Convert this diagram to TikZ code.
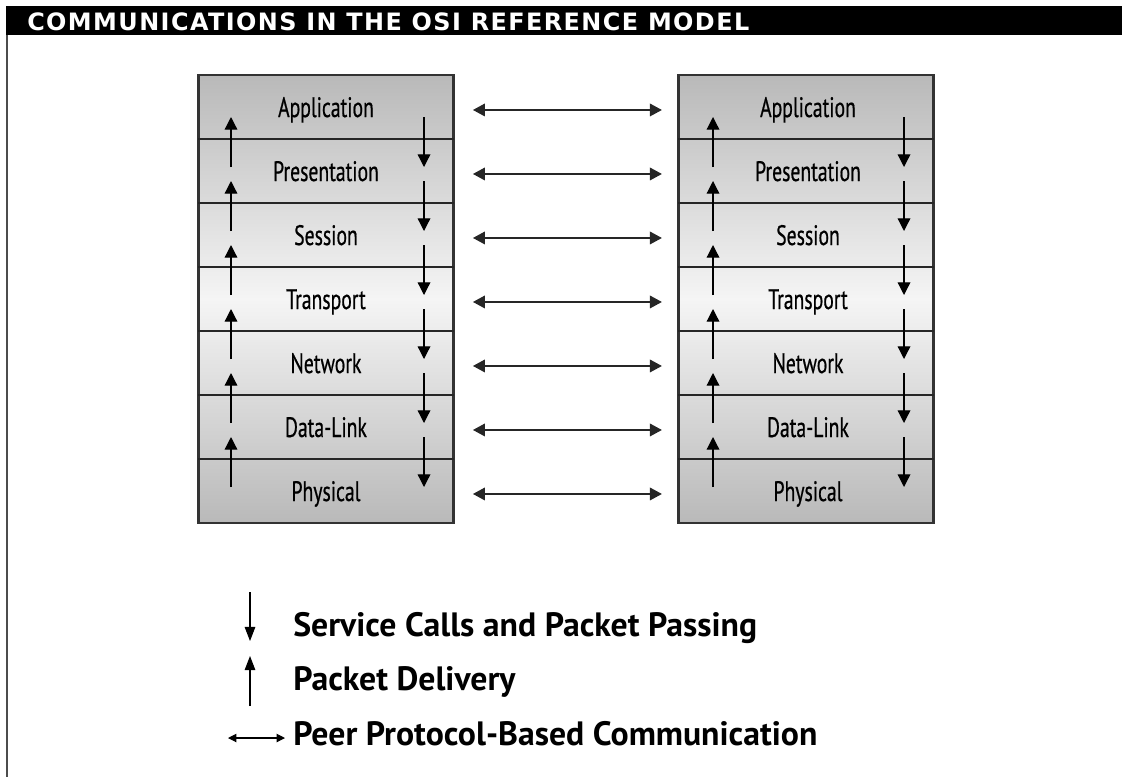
\documentclass[tikz,border=0pt]{standalone}
\usepackage{fontspec}
\setmainfont{PT Sans}
\newfontfamily\layerfont[FakeStretch=0.7, FakeBold=0.6]{PT Sans}
\newfontfamily\titlefont[LetterSpace=6]{DejaVu Sans}
\usetikzlibrary{arrows.meta}

\begin{document}
\begin{tikzpicture}[x=0.025cm, y=-0.025cm,
    stack/.style={draw=black!80, line width=1.6pt, top color=gray!55, bottom color=gray!55, middle color=gray!8, minimum width=6.375cm, minimum height=11.2cm, inner sep=0},
    layer/.style={font=\layerfont\fontsize{20}{24}\selectfont, anchor=base, inner sep=0, text height=13pt, text depth=3pt},
    divider/.style={line width=0.9pt, black!85},
    flow/.style={line width=0.9pt, -{Triangle[width=9pt, length=9pt]}},
    peer/.style={line width=0.9pt, black!85, {Triangle[width=9pt, length=8.5pt]}-{Triangle[width=9pt, length=8.5pt]}, shorten <=13pt, shorten >=11pt},
    legflow/.style={line width=0.75pt, -{Triangle[width=7.5pt, length=10pt]}},
    legpeer/.style={line width=0.75pt, {Triangle[width=6pt, length=6pt]}-{Triangle[width=6pt, length=6pt]}},
    legend/.style={font=\bfseries\fontsize{24}{28}\selectfont, anchor=base west, inner sep=0}]
    \useasboundingbox (0,0) rectangle (1122,777);
    \fill (6,6) rectangle (1122,35);
    \node[anchor=west, text=white, inner sep=0, font=\titlefont\bfseries\fontsize{17}{19}\selectfont] (title) at (27,22) {COMMUNICATIONS IN THE OSI REFERENCE MODEL};
    \draw[black!70, line width=1.4pt] (7,35) -- (7,777);

    \node[stack] (lbox) at (326,299) {};
    \node[stack] (rbox) at (806,299) {};
    \foreach \name [count=\i] in {Application,Presentation,Session,Transport,Network,Data-Link,Physical} {
        \node[layer] (l\i) at (326,53+64*\i) {\name};
        \node[layer] (r\i) at (808,53+64*\i) {\name};
        \draw[peer] (lbox.east |- l\i) -- (rbox.west |- r\i);
    }
    \foreach \k [evaluate=\k as \y using 75+64*\k] in {1,...,6} {
        \draw[divider] (198,\y) -- (454,\y);
        \draw[divider] (678,\y) -- (934,\y);
        \draw[flow] (231,\y+28) -- (231,\y-22);
        \draw[flow] (424,\y-22) -- (424,\y+28);
        \draw[flow] (713,\y+28) -- (713,\y-22);
        \draw[flow] (904,\y-22) -- (904,\y+28);
    }

    \node[legend] (lg1) at (293,636) {Service Calls and Packet Passing};
    \node[legend] (lg2) at (293,690) {Packet Delivery};
    \node[legend] (lg3) at (293,745) {Peer Protocol-Based Communication};
    \draw[legflow] (250,592) -- (250,641);
    \draw[legflow] (250,706) -- (250,656);
    \draw[legpeer] (228,738) -- (285,738);
\end{tikzpicture}
\end{document}
